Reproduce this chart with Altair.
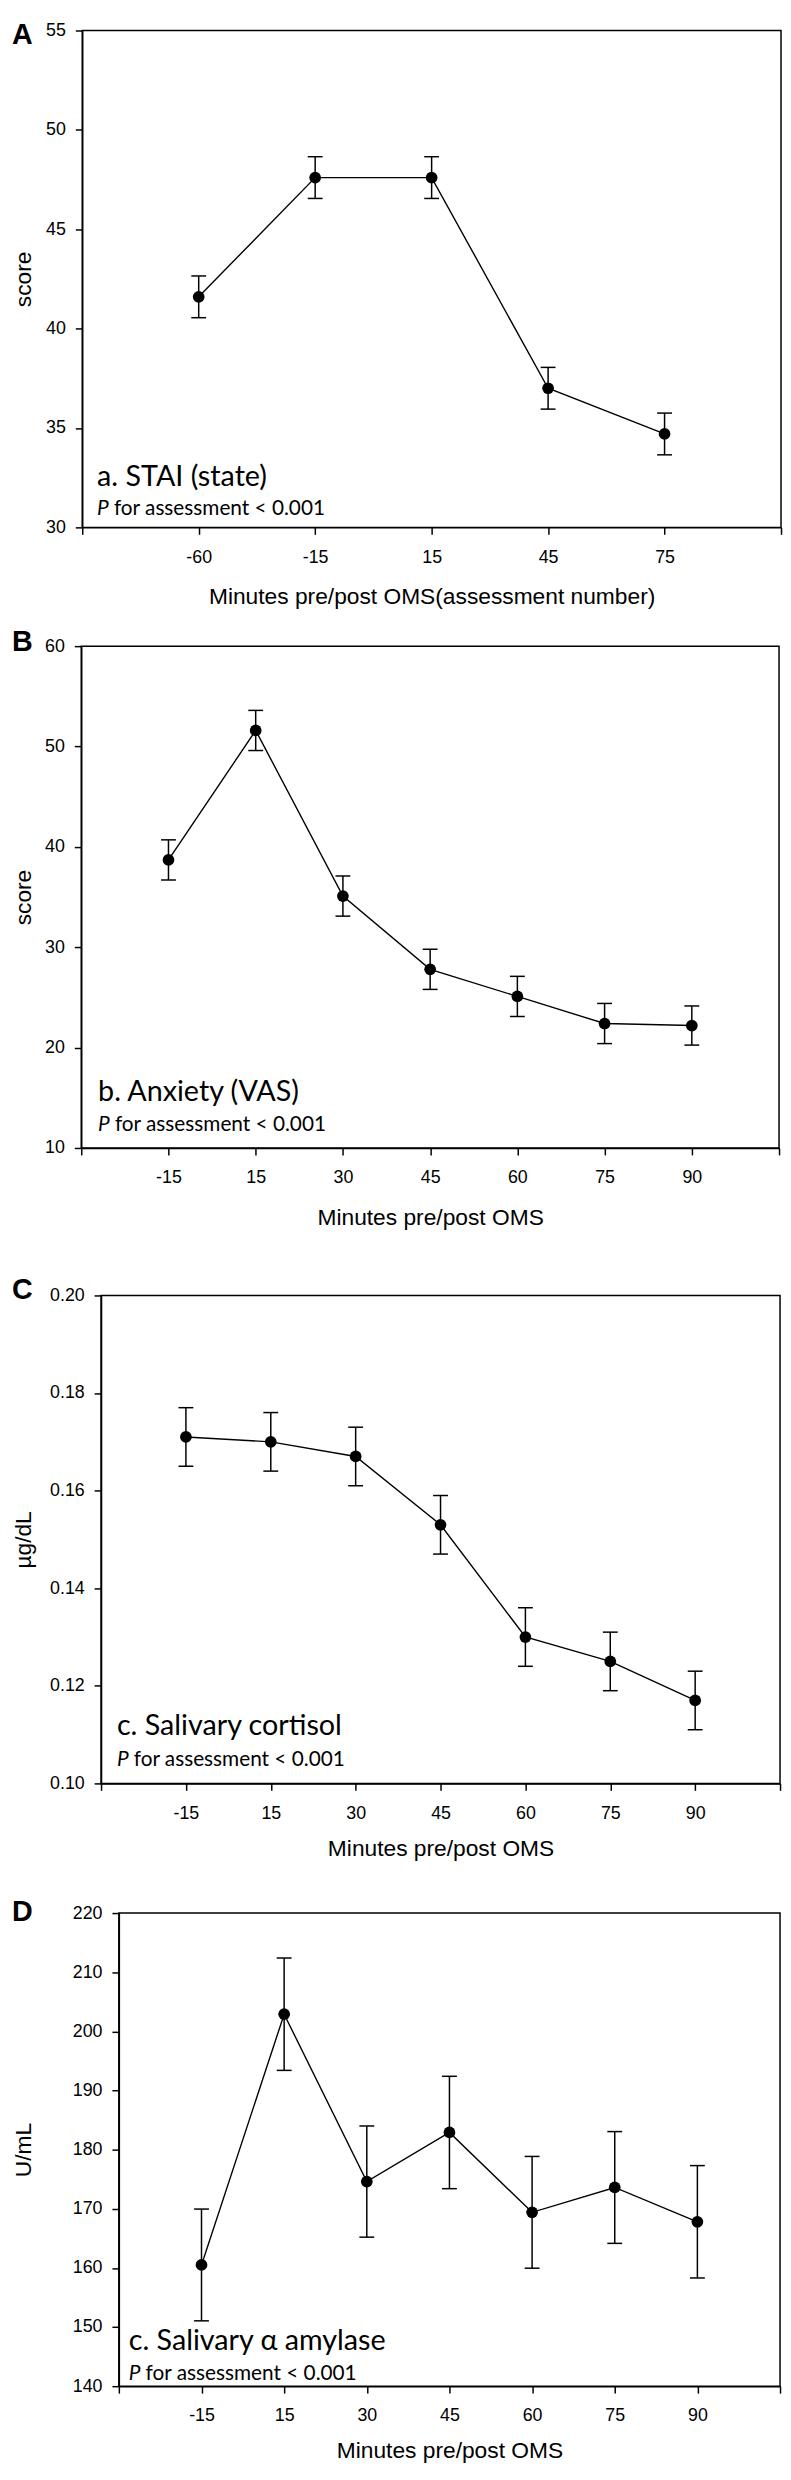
import altair as alt
import pandas as pd

# ---------------- data ----------------
minutes_a = ["-60", "-15", "15", "45", "75"]
stai_mean = [41.6, 47.6, 47.6, 37.0, 34.7]
stai_err = [1.05, 1.05, 1.05, 1.05, 1.05]
stai_ticks = [30, 35, 40, 45, 50, 55]

minutes_b = ["-15", "15", "30", "45", "60", "75", "90"]
vas_mean = [38.7, 51.6, 35.1, 27.8, 25.1, 22.4, 22.2]
vas_err = [2.0, 2.0, 2.0, 2.0, 2.0, 2.0, 1.95]
vas_ticks = [10, 20, 30, 40, 50, 60]

minutes_c = ["-15", "15", "30", "45", "60", "75", "90"]
cort_mean = [0.171, 0.170, 0.167, 0.153, 0.130, 0.125, 0.117]
cort_err = [0.006, 0.006, 0.006, 0.006, 0.006, 0.006, 0.006]
cort_ticks = [0.10, 0.12, 0.14, 0.16, 0.18, 0.20]

minutes_d = ["-15", "15", "30", "45", "60", "75", "90"]
amyl_mean = [160.5, 202.9, 174.6, 182.9, 169.4, 173.6, 167.8]
amyl_err = [9.45, 9.5, 9.4, 9.5, 9.45, 9.45, 9.5]
amyl_ticks = [140, 150, 160, 170, 180, 190, 200, 210, 220]

FONT = "Liberation Sans"
ANNOT_FONT = "Lato"


def panel(letter, minutes, means, errs, yticks, yfmt, ytitle, xtitle, ann_title,
          width, height, left_ext, top_ext, bottom_ext, letter_y, ytitle_x,
          xtitle_y, ann_x, ann_title_off, ann_p_off):
    n = len(minutes)
    df = pd.DataFrame({
        "idx": list(range(1, n + 1)),
        "minutes": minutes,
        "mean": means,
        "lo": [m - e for m, e in zip(means, errs)],
        "hi": [m + e for m, e in zip(means, errs)],
    })
    label_arr = "[''," + ",".join("'%s'" % m for m in minutes) + ",'']"
    xscale = alt.Scale(domain=[0, n + 1], nice=False, zero=False)
    yscale = alt.Scale(domain=[yticks[0], yticks[-1]], nice=False, zero=False)
    xaxis = alt.Axis(
        values=list(range(n + 2)), labelExpr=label_arr + "[datum.value]",
        grid=False, tickSize=7, tickWidth=1.5, tickColor="black",
        domainColor="black", domainWidth=1.5, labelFont=FONT, labelFontSize=18,
        labelColor="black", labelPadding=14, labelFlush=False, labelOverlap=False,
        title=xtitle, titleFont=FONT, titleFontSize=23, titleFontWeight="normal",
        titleColor="black", titleX=width / 2, titleY=xtitle_y, titleAlign="center",
        titleBaseline="alphabetic",
    )
    yaxis = alt.Axis(
        values=yticks, format=yfmt, grid=False, tickSize=7, tickWidth=1.5,
        tickColor="black", domainColor="black", domainWidth=1.5, labelFont=FONT,
        labelFontSize=18, labelColor="black", labelPadding=10, labelOverlap=False,
        title=ytitle, titleFont=FONT, titleFontSize=23, titleFontWeight="normal",
        titleColor="black", titleX=ytitle_x, titleY=height / 2, titleAngle=270,
        titleAlign="center", titleBaseline="alphabetic",
    )

    def X():
        return alt.X("idx:Q", scale=xscale, axis=xaxis)

    def Y(f):
        return alt.Y(f + ":Q", scale=yscale, axis=yaxis)

    base = alt.Chart(df)
    line = base.mark_line(color="black", strokeWidth=1.4).encode(x=X(), y=Y("mean"))
    bars = base.mark_rule(color="black", strokeWidth=1.5).encode(
        x=X(), y=Y("lo"), y2="hi:Q")
    cap_hi = base.mark_tick(orient="horizontal", size=15, thickness=1.5,
                            color="black", opacity=1).encode(x=X(), y=Y("hi"))
    cap_lo = base.mark_tick(orient="horizontal", size=15, thickness=1.5,
                            color="black", opacity=1).encode(x=X(), y=Y("lo"))
    pts = base.mark_circle(size=140, color="black", opacity=1).encode(
        x=X(), y=Y("mean"))

    one = alt.Chart(pd.DataFrame({"k": [0]}))
    spacer = one.mark_rule(opacity=0, strokeWidth=1).encode(
        x=alt.value(-left_ext + 0.5), y=alt.value(-top_ext),
        y2=alt.value(height + bottom_ext))
    letter_t = one.mark_text(text=letter, font=FONT, fontSize=29, fontWeight="bold",
                             align="left", baseline="alphabetic", color="black").encode(
        x=alt.value(-left_ext), y=alt.value(letter_y))
    ann1 = one.mark_text(text=ann_title, font=ANNOT_FONT, fontSize=29, align="left",
                         baseline="alphabetic", color="black").encode(
        x=alt.value(ann_x), y=alt.value(height - ann_title_off))
    ann_p = one.mark_text(text="P", font=ANNOT_FONT, fontSize=21, fontStyle="italic",
                          align="left", baseline="alphabetic", color="black").encode(
        x=alt.value(ann_x), y=alt.value(height - ann_p_off))
    ann_rest = one.mark_text(text="for assessment < 0.001", font=ANNOT_FONT,
                             fontSize=21, align="left", baseline="alphabetic",
                             color="black").encode(
        x=alt.value(ann_x + 17), y=alt.value(height - ann_p_off))

    panel_chart = alt.layer(spacer, line, bars, cap_hi, cap_lo, pts, letter_t, ann1,
                            ann_p, ann_rest).properties(width=width, height=height)

    # a 1px invisible lead-in so that each row keeps its own left offset
    lead = one.mark_rule(opacity=0, strokeWidth=1).encode(
        x=alt.value(0.5), y=alt.value(0), y2=alt.value(1)
    ).properties(width=1, height=1,
                 view=alt.ViewBackground(stroke="transparent", fill="transparent"))
    return alt.hconcat(lead, panel_chart, spacing=0)


# plot-left targets (abs): A 80, B 79, C 99, D 117 -> left_ext = target - 9
pA = panel("A", minutes_a, stai_mean, stai_err, stai_ticks, "d", "score",
           "Minutes pre/post OMS(assessment number)", "a. STAI (state)",
           width=706, height=502, left_ext=71, top_ext=9, bottom_ext=99,
           letter_y=14, ytitle_x=-52, xtitle_y=77, ann_x=15,
           ann_title_off=42.3, ann_p_off=13)
pB = panel("B", minutes_b, vas_mean, vas_err, vas_ticks, "d", "score",
           "Minutes pre/post OMS", "b. Anxiety (VAS)",
           width=705, height=507, left_ext=70, top_ext=19, bottom_ext=127,
           letter_y=5, ytitle_x=-51, xtitle_y=77, ann_x=17,
           ann_title_off=47.5, ann_p_off=17)
pC = panel("C", minutes_c, cort_mean, cort_err, cort_ticks, ".2f", "µg/dL",
           "Minutes pre/post OMS", "c. Salivary cortisol",
           width=686, height=493, left_ext=90, top_ext=20, bottom_ext=113,
           letter_y=4, ytitle_x=-71, xtitle_y=73, ann_x=16,
           ann_title_off=49, ann_p_off=17.6)
pD = panel("D", minutes_d, amyl_mean, amyl_err, amyl_ticks, "d", "U/mL",
           "Minutes pre/post OMS", "c. Salivary α amylase",
           width=668, height=478, left_ext=108, top_ext=16, bottom_ext=60,
           letter_y=8, ytitle_x=-89, xtitle_y=72, ann_x=10,
           ann_title_off=36.3, ann_p_off=6.3)

chart = alt.vconcat(pA, pB, pC, pD, spacing=0).properties(
    padding=0, background="white"
).configure_view(stroke="black", strokeWidth=1.5)

chart.save("out.html", embed_options={"renderer": "svg", "actions": False})
